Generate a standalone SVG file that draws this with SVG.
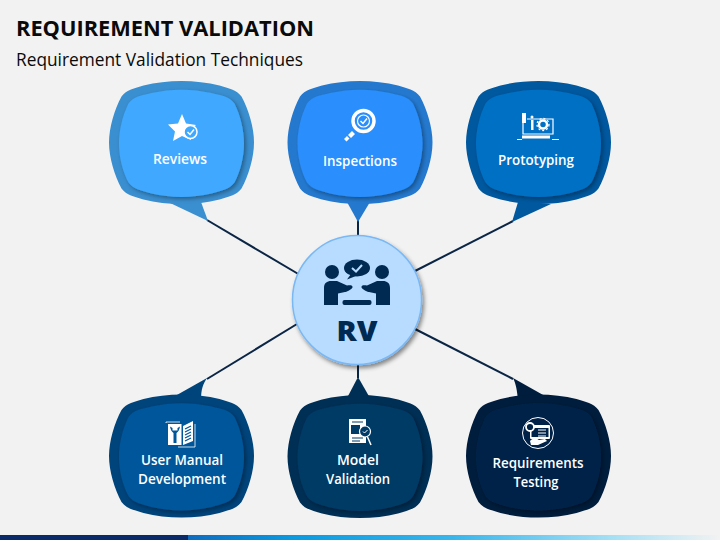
<svg xmlns="http://www.w3.org/2000/svg" xmlns:xlink="http://www.w3.org/1999/xlink" width="720" height="540" viewBox="0 0 720 540">
<style>
text{font-family:"Open Sans","Noto Sans","Liberation Sans",sans-serif}
.title{font-size:22px;font-weight:700;fill:#0a0a0a}
.sub{font-size:18px;fill:#0a0a0a}
.lbl{font-size:14px;font-weight:600;fill:#fff;text-anchor:middle}
.rv{font-size:28px;font-weight:800;fill:#002a52;text-anchor:middle}
.conn{stroke:#0b2545;stroke-width:2;fill:none}
.ic{fill:#fff}
.icl{fill:none;stroke:#fff}
.dk{fill:#002a52}
</style>
<defs>
<path id="blob" d="M-60,-46C-55,-53 -47,-54 -38,-57C-14,-63 14,-63 38,-57C47,-54 55,-53 60,-46C67,-33 72.500,-15 72.500,0C72.500,15 67,33 60,46C55,53 47,54 38,57C14,63 -14,63 -38,57C-47,54 -55,53 -60,46C-67,33 -72.500,15 -72.500,0C-72.500,-15 -67,-33 -60,-46Z"/>
<path id="inner" d="M-53,-40C-48,-47 -40,-48 -30,-50.500C-10,-55 10,-55 30,-50.500C40,-48 48,-47 53,-40C59,-28 62.500,-13 62.500,0C62.500,13 59,28 53,39C48,46 40,47 30,50C10,54.500 -10,54.500 -30,50C-40,47 -48,46 -53,39C-59,28 -62.500,13 -62.500,0C-62.500,-13 -59,-28 -53,-40Z"/>
<filter id="sh" x="-20%" y="-20%" width="140%" height="140%"><feDropShadow dx="2" dy="2" stdDeviation="2" flood-color="#000" flood-opacity="0.35"/></filter>
<filter id="csh" x="-20%" y="-20%" width="140%" height="140%"><feDropShadow dx="2" dy="3" stdDeviation="2" flood-color="#000" flood-opacity="0.45"/></filter>
<linearGradient id="bar" x1="0" x2="1" y1="0" y2="0"><stop offset="0" stop-color="#0f6cbf"/><stop offset="0.2" stop-color="#0a9ae0"/><stop offset="0.5" stop-color="#38b6ec"/><stop offset="0.8" stop-color="#a6e0f5"/><stop offset="1" stop-color="#f2f2f2"/></linearGradient>
</defs>
<rect width="720" height="540" fill="#f2f2f2"/>
<text class="title" x="16" y="36" textLength="298" lengthAdjust="spacingAndGlyphs">REQUIREMENT VALIDATION</text>
<text class="sub" x="16" y="66" textLength="287" lengthAdjust="spacingAndGlyphs">Requirement Validation Techniques</text>
<g id="connectors">
<line class="conn" x1="207" y1="220" x2="300" y2="275"/>
<line class="conn" x1="358" y1="220" x2="358" y2="237"/>
<line class="conn" x1="513" y1="221" x2="415" y2="271"/>
<line class="conn" x1="207" y1="379" x2="297" y2="324"/>
<line class="conn" x1="358" y1="378" x2="358" y2="365"/>
<line class="conn" x1="513" y1="379" x2="415" y2="329"/>
</g>
<g id="reviews">
<path fill="#3a8fd0" d="M168,202L208,221L201,202Z"/>
<use xlink:href="#blob" href="#blob" x="181.500" y="142.500" fill="#3a8fd0"/>
<use xlink:href="#inner" href="#inner" x="181.500" y="143.500" fill="#3fa9ff" filter="url(#sh)"/>
<path class="ic" d="M182,114L186,123.500L196,125L189,131.500L191,140L182,136L173,141L175,131.500L168,124.500L178,123.500Z"/>
<circle cx="190.500" cy="132" r="6.500" fill="#3fa9ff" stroke="#fff" stroke-width="1.500"/>
<path class="icl" stroke-width="1.500" d="M187.500,132L190,134.500L194,129.500"/>
<text class="lbl" x="180" y="164" textLength="54" lengthAdjust="spacingAndGlyphs">Reviews</text>
</g>
<g id="inspections">
<path fill="#2479cf" d="M347,202L358,222L370,202Z"/>
<use xlink:href="#blob" href="#blob" x="360" y="142.500" fill="#2479cf"/>
<use xlink:href="#inner" href="#inner" x="360" y="143.500" fill="#2a8efc" filter="url(#sh)"/>
<circle class="icl" cx="363.500" cy="121" r="10.500" stroke-width="3.500"/>
<circle class="icl" cx="363.500" cy="121" r="6" stroke-width="1.200"/>
<path class="icl" stroke-width="1.500" d="M360.500,121L363,123.500L367,118.500"/>
<path class="ic" d="M352,131L355,134L351,138L348,135ZM347,136L349.500,138.500L346.500,141.500L344,139Z"/>
<text class="lbl" x="360" y="166" textLength="74" lengthAdjust="spacingAndGlyphs">Inspections</text>
</g>
<g id="prototyping">
<path fill="#00589f" d="M518,202L512,222L551,204Z"/>
<use xlink:href="#blob" href="#blob" x="538.500" y="142.500" fill="#00589f"/>
<use xlink:href="#inner" href="#inner" x="538.500" y="143.500" fill="#0070c4" filter="url(#sh)"/>
<path class="icl" stroke-width="1.200" d="M523,113V134H553V119H527"/>
<rect class="ic" x="522" y="113" width="4" height="10"/>
<rect class="ic" x="531" y="120" width="2.500" height="10"/>
<circle class="ic" cx="532" cy="117" r="1.500"/>
<circle class="icl" cx="543" cy="124.500" r="4" stroke-width="2.500"/>
<circle class="icl" cx="543" cy="124.500" r="6" stroke-width="1.300" stroke-dasharray="2 2"/>
<rect class="ic" x="522" y="135.500" width="28" height="3"/>
<path class="icl" stroke-width="1" d="M517,139.500H522M552,139.500H559"/>
<text class="lbl" x="536" y="165" textLength="76" lengthAdjust="spacingAndGlyphs">Prototyping</text>
</g>
<g id="center">
<circle cx="357" cy="300" r="64.500" fill="#b8dcff" stroke="#7ab8f5" stroke-width="1.500" filter="url(#csh)"/>
<circle class="dk" cx="332" cy="272" r="7"/>
<circle class="dk" cx="382" cy="272" r="7"/>
<ellipse class="dk" cx="357" cy="268" rx="13" ry="8.500"/>
<path class="dk" d="M351,274L347,279.500L356,276Z"/>
<path fill="none" stroke="#b8dcff" stroke-width="2" d="M352,268L356,271.500L362,265"/>
<path class="dk" d="M324,305V288C324,283 327,281 331,281H337L347,285.500C350,285 353,285 352.500,287.500C351,290 346,292 345,292L338,293.500V305Z"/>
<path class="dk" d="M390,305V288C390,283 387,281 383,281H377L367,285.500C364,285 361,285 361.500,287.500C363,290 368,292 369,292L376,293.500V305Z"/>
<rect class="dk" x="342.500" y="300" width="29" height="5" rx="2"/>
<text class="rv" x="357" y="341" textLength="41" lengthAdjust="spacingAndGlyphs">RV</text>
</g>
<g id="user-manual">
<path fill="#00447c" d="M168,400L207,378C203,384 201,389 201,400Z"/>
<use xlink:href="#blob" href="#blob" x="181.500" y="456" fill="#00447c"/>
<use xlink:href="#inner" href="#inner" x="181.500" y="457" fill="#00569a" filter="url(#sh)"/>
<path class="ic" d="M168,424H181.500V445H168ZM183,426L193,421V441L183,445Z"/>
<path fill="#00569a" d="M170,426.500C170.500,430 172,432 173.500,433V443H176.500V433C178,432 179.500,430 180,426.500L177.500,428V430.500H172.500V428Z"/>
<path fill="none" stroke="#00569a" stroke-width="1.300" d="M185,429L191,426M185,432L191,429M185,435L191,432M185,438L191,435M185,441L191,438"/>
<path class="icl" stroke-width="0.800" d="M166,423V422H180M195,424V447H178"/>
<text class="lbl" x="182" y="465" textLength="82" lengthAdjust="spacingAndGlyphs">User Manual</text>
<text class="lbl" x="182" y="484" textLength="88" lengthAdjust="spacingAndGlyphs">Development</text>
</g>
<g id="model-validation">
<path fill="#002f55" d="M347,398L358,377L370,398Z"/>
<use xlink:href="#blob" href="#blob" x="360" y="456.500" fill="#002f55"/>
<use xlink:href="#inner" href="#inner" x="360" y="457.500" fill="#003a66" filter="url(#sh)"/>
<rect class="ic" x="349" y="419" width="17" height="24"/>
<path fill="none" stroke="#003a66" stroke-width="1.200" d="M352,422H363M352,438H363M352,441H360"/>
<rect fill="#003a66" x="351" y="425" width="9" height="9"/>
<circle cx="365" cy="431.500" r="5.500" fill="#003a66" stroke="#fff" stroke-width="1.200"/>
<path class="icl" stroke-width="1" d="M363,431.500L364.500,433L367.500,430"/>
<path class="icl" stroke-width="1.500" d="M367.500,437L371,445"/>
<text class="lbl" x="358" y="465" textLength="42" lengthAdjust="spacingAndGlyphs">Model</text>
<text class="lbl" x="358" y="484" textLength="64" lengthAdjust="spacingAndGlyphs">Validation</text>
</g>
<g id="requirements-testing">
<path fill="#001d3d" d="M518,400L552,400L513,378C516,384 517,390 518,400Z"/>
<use xlink:href="#blob" href="#blob" x="538.500" y="456" fill="#001d3d"/>
<use xlink:href="#inner" href="#inner" x="538.500" y="457" fill="#002449" filter="url(#sh)"/>
<circle class="icl" cx="538" cy="433" r="15.500" stroke-width="1"/>
<rect class="ic" x="530" y="425" width="20" height="14" rx="1"/>
<rect fill="#002449" x="531.500" y="428" width="17" height="9"/>
<path class="ic" d="M530,441C533,438 536,438 539,440L545,439L547,441L538,445H531Z"/>
<path class="icl" stroke-width="1" d="M538,430H546M538,433H546M538,436H546"/>
<circle cx="530" cy="427" r="4" fill="#002449" stroke="#fff" stroke-width="1.800"/>
<text class="lbl" x="538" y="468" textLength="91" lengthAdjust="spacingAndGlyphs">Requirements</text>
<text class="lbl" x="536" y="487" textLength="45" lengthAdjust="spacingAndGlyphs">Testing</text>
</g>
<rect y="535" width="188" height="5" fill="#0b2a6a"/>
<rect x="188" y="535" width="532" height="5" fill="url(#bar)"/>
</svg>
